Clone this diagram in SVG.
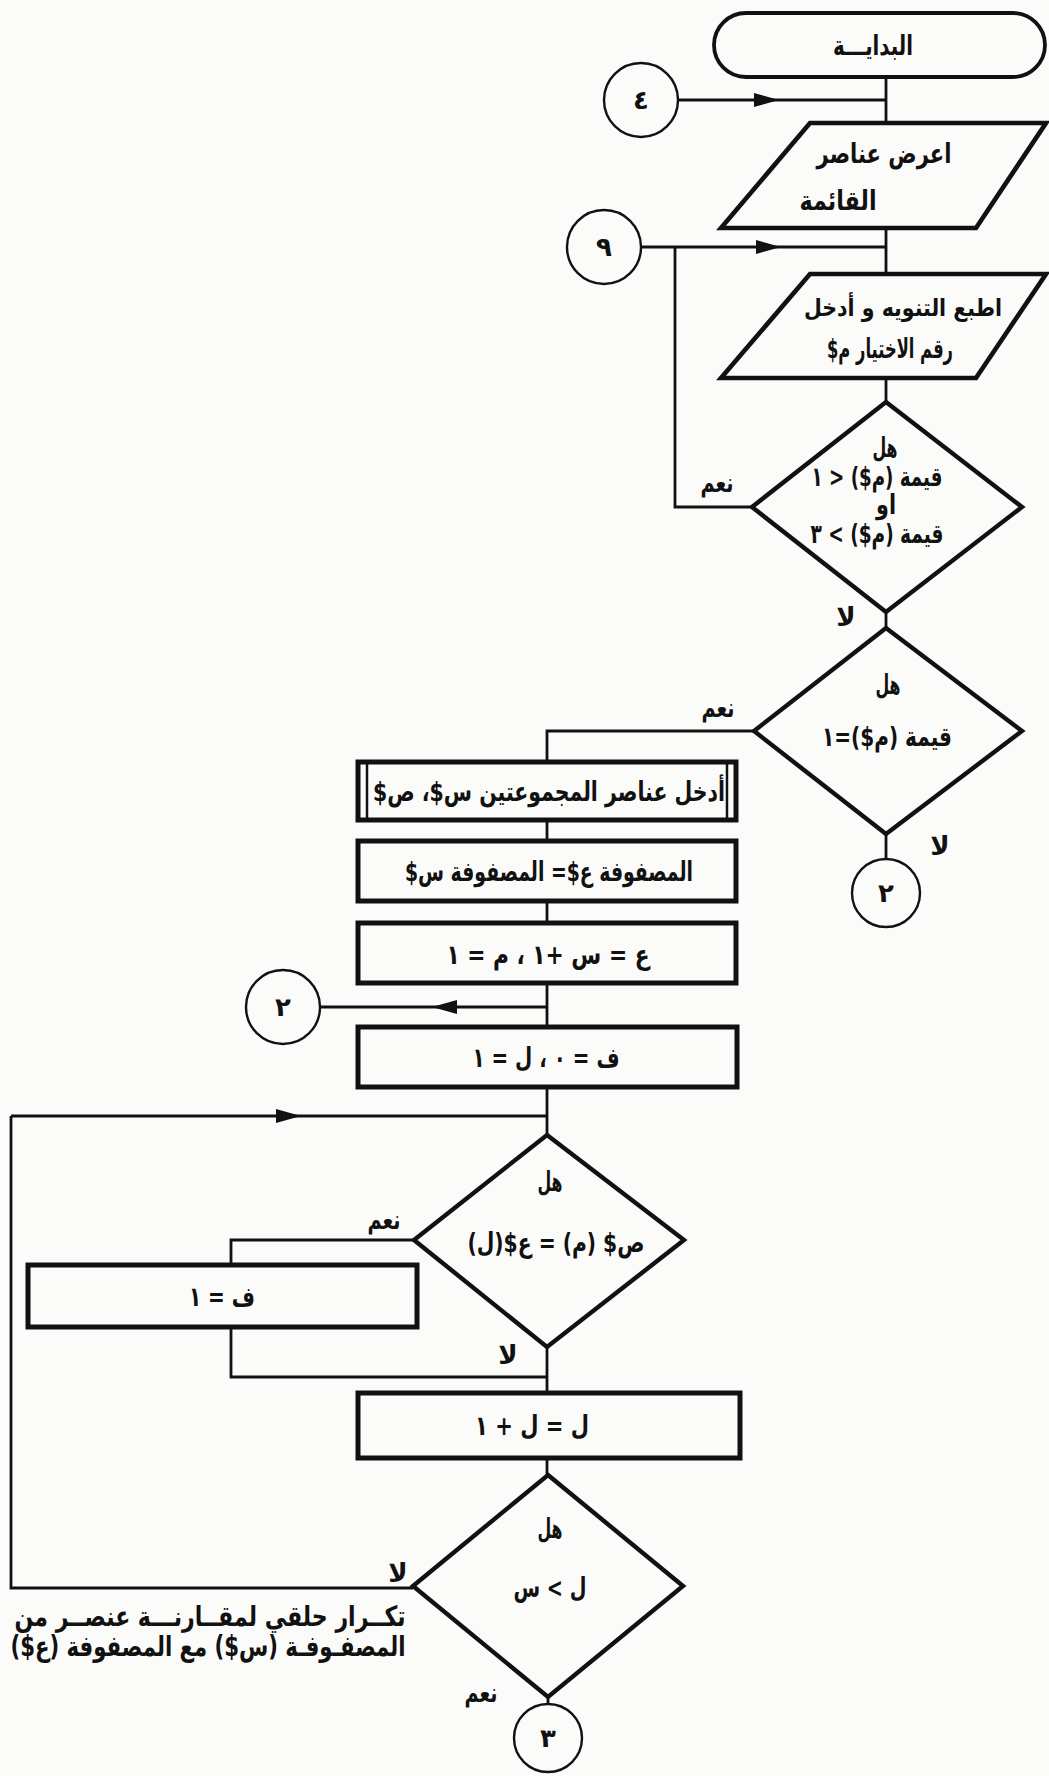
<svg xmlns="http://www.w3.org/2000/svg" width="1049" height="1776" viewBox="0 0 1049 1776">
  <style>
    .page { fill: #fbfbf9; }
    .term, .io, .dec, .proc { fill: none; stroke: #111; stroke-linejoin: miter; }
    .term { stroke-width: 3.8; }
    .io { stroke-width: 4.6; }
    .dec { stroke-width: 4.4; }
    .proc { stroke-width: 5; }
    .bar { stroke: #111; stroke-width: 2.5; }
    .conn { fill: none; stroke: #111; stroke-width: 2.4; }
    .wire { fill: none; stroke: #111; stroke-width: 2.8; }
    text { font-family: 'DejaVu Sans', 'Noto Sans', sans-serif; font-weight: bold; fill: #111;
           direction: rtl; text-anchor: middle; dominant-baseline: central; font-size: 27px; }
    .num { font-size: 26px; }
    .lbl { font-size: 26px; }
    .note { font-size: 28px; }
    .tight { font-size: 24px; }
  </style>
  <defs>
    <marker id="arrow" viewBox="-26 -8 26 16" refX="0" refY="0" markerWidth="26" markerHeight="16"
            markerUnits="userSpaceOnUse" orient="auto">
      <path d="M0,0 L-25,-7 L-25,7 Z" fill="#111"/>
    </marker>
  </defs>

  <rect class="page" x="0" y="0" width="1049" height="1776"/>

  <!-- connectors -->
  <g id="connectors">
    <line class="wire" x1="886" y1="77" x2="886" y2="123"/>
    <polyline class="wire" points="678,100 779,100 886,100" marker-mid="url(#arrow)"/>
    <line class="wire" x1="886" y1="228" x2="886" y2="274"/>
    <polyline class="wire" points="641,247 781,247 886,247" marker-mid="url(#arrow)"/>
    <polyline class="wire" points="752,507 675,507 675,247"/>
    <line class="wire" x1="886" y1="378" x2="886" y2="402"/>
    <line class="wire" x1="886" y1="612" x2="886" y2="628"/>
    <line class="wire" x1="886" y1="834" x2="886" y2="859"/>
    <polyline class="wire" points="754,731 547,731 547,762"/>
    <line class="wire" x1="547" y1="820" x2="547" y2="841"/>
    <line class="wire" x1="547" y1="901" x2="547" y2="923"/>
    <line class="wire" x1="547" y1="983" x2="547" y2="1027"/>
    <polyline class="wire" points="547,1007 432,1007 320,1007" marker-mid="url(#arrow)"/>
    <line class="wire" x1="547" y1="1087" x2="547" y2="1135"/>
    <polyline class="wire" points="414,1240 231,1240 231,1265"/>
    <polyline class="wire" points="231,1327 231,1377 547,1377"/>
    <line class="wire" x1="547" y1="1347" x2="547" y2="1393"/>
    <line class="wire" x1="547" y1="1458" x2="547" y2="1475"/>
    <polyline class="wire" points="413,1588 11,1588 11,1116"/>
    <polyline class="wire" points="11,1116 301,1116 547,1116" marker-mid="url(#arrow)"/>
    <line class="wire" x1="548" y1="1697" x2="548" y2="1704"/>
  </g>

  <!-- start terminator -->
  <g id="start">
    <rect class="term" x="714" y="13" width="331" height="64" rx="32"/>
    <text x="873" y="45" textLength="80" lengthAdjust="spacingAndGlyphs">البدايـــة</text>
  </g>

  <!-- off-page connector 4 -->
  <g id="conn4">
    <circle class="conn" cx="641" cy="100" r="37"/>
    <text class="num" x="641" y="100">٤</text>
  </g>

  <!-- show list items -->
  <g id="showList">
    <polygon class="io" points="810,123 1046,123 976,228 721,228"/>
    <text x="884" y="153" textLength="135" lengthAdjust="spacingAndGlyphs">اعرض عناصر</text>
    <text x="838" y="200" textLength="77" lengthAdjust="spacingAndGlyphs">القائمة</text>
  </g>

  <!-- off-page connector 9 -->
  <g id="conn9">
    <circle class="conn" cx="604" cy="247" r="37"/>
    <text class="num" x="604" y="247">٩</text>
  </g>

  <!-- prompt and read choice -->
  <g id="readChoice">
    <polygon class="io" points="810,274 1046,274 976,378 721,378"/>
    <text class="tight" x="903" y="308" textLength="198" lengthAdjust="spacingAndGlyphs">اطبع التنويه و أدخل</text>
    <text x="890" y="348" textLength="126" lengthAdjust="spacingAndGlyphs">رقم الاختيار م$</text>
  </g>

  <!-- range check -->
  <g id="rangeCheck">
    <polygon class="dec" points="886,402 1022,507 886,612 752,507"/>
    <text x="885" y="447" textLength="25" lengthAdjust="spacingAndGlyphs">هل</text>
    <text x="877" y="476" textLength="131" lengthAdjust="spacingAndGlyphs">قيمة (م$) &lt; ١</text>
    <text x="886" y="504" textLength="20" lengthAdjust="spacingAndGlyphs">او</text>
    <text x="877" y="533" textLength="133" lengthAdjust="spacingAndGlyphs">قيمة (م$) &gt; ٣</text>
    <text class="lbl" x="717" y="483" textLength="33" lengthAdjust="spacingAndGlyphs">نعم</text>
    <text class="lbl" x="846" y="617">لا</text>
  </g>

  <!-- choice equals one -->
  <g id="choiceOne">
    <polygon class="dec" points="886,628 1022,731 886,834 754,731"/>
    <text x="888" y="684" textLength="25" lengthAdjust="spacingAndGlyphs">هل</text>
    <text x="887" y="736" textLength="130" lengthAdjust="spacingAndGlyphs">قيمة (م$)=١</text>
    <text class="lbl" x="718" y="708" textLength="33" lengthAdjust="spacingAndGlyphs">نعم</text>
    <text class="lbl" x="940" y="846">لا</text>
  </g>

  <!-- connector 2 (exit) -->
  <g id="conn2out">
    <circle class="conn" cx="886" cy="893" r="34"/>
    <text class="num" x="886" y="893">٢</text>
  </g>

  <!-- input both sets -->
  <g id="inputSets">
    <rect class="proc" x="358" y="762" width="378" height="58"/>
    <line class="bar" x1="367" y1="762" x2="367" y2="820"/>
    <line class="bar" x1="727" y1="762" x2="727" y2="820"/>
    <text x="549" y="791" textLength="352" lengthAdjust="spacingAndGlyphs">أدخل عناصر المجموعتين س$، ص$</text>
  </g>

  <!-- copy array -->
  <g id="copyArray">
    <rect class="proc" x="358" y="841" width="378" height="60"/>
    <text x="549" y="871" textLength="288" lengthAdjust="spacingAndGlyphs">المصفوفة ع$= المصفوفة س$</text>
  </g>

  <!-- init counters -->
  <g id="initCounters">
    <rect class="proc" x="358" y="923" width="378" height="60"/>
    <text x="548" y="954" textLength="203" lengthAdjust="spacingAndGlyphs">ع = س +١ ،  م = ١</text>
  </g>

  <!-- connector 2 (entry) -->
  <g id="conn2in">
    <circle class="conn" cx="283" cy="1007" r="37"/>
    <text class="num" x="283" y="1007">٢</text>
  </g>

  <!-- reset flag -->
  <g id="resetFlag">
    <rect class="proc" x="358" y="1027" width="379" height="60"/>
    <text x="546" y="1057" textLength="147" lengthAdjust="spacingAndGlyphs">ف = ٠ ، ل = ١</text>
  </g>

  <!-- compare elements -->
  <g id="compare">
    <polygon class="dec" points="547,1135 684,1240 547,1347 414,1240"/>
    <text x="550" y="1181" textLength="25" lengthAdjust="spacingAndGlyphs">هل</text>
    <text x="556" y="1242" textLength="177" lengthAdjust="spacingAndGlyphs">ص$ (م) = ع$(ل)</text>
    <text class="lbl" x="384" y="1220" textLength="33" lengthAdjust="spacingAndGlyphs">نعم</text>
    <text class="lbl" x="508" y="1355">لا</text>
  </g>

  <!-- set flag -->
  <g id="setFlag">
    <rect class="proc" x="28" y="1265" width="389" height="62"/>
    <text x="222" y="1296" textLength="66" lengthAdjust="spacingAndGlyphs">ف = ١</text>
  </g>

  <!-- increment index -->
  <g id="increment">
    <rect class="proc" x="358" y="1393" width="382" height="65"/>
    <text x="532" y="1425" textLength="114" lengthAdjust="spacingAndGlyphs">ل = ل + ١</text>
  </g>

  <!-- loop end test -->
  <g id="loopTest">
    <polygon class="dec" points="548,1475 683,1586 548,1697 413,1586"/>
    <text x="550" y="1528" textLength="25" lengthAdjust="spacingAndGlyphs">هل</text>
    <text x="550" y="1587" textLength="73" lengthAdjust="spacingAndGlyphs">ل &gt; س</text>
    <text class="lbl" x="398" y="1573">لا</text>
    <text class="lbl" x="481" y="1693" textLength="33" lengthAdjust="spacingAndGlyphs">نعم</text>
  </g>

  <!-- loop note -->
  <g id="loopNote">
    <text class="note" x="210" y="1616" textLength="391" lengthAdjust="spacingAndGlyphs">تكــرار حلقي لمقــارنـــة عنصــر من</text>
    <text class="note" x="208" y="1646" textLength="395" lengthAdjust="spacingAndGlyphs">المصفـوفـة (س$) مع المصفوفة (ع$)</text>
  </g>

  <!-- connector 3 -->
  <g id="conn3">
    <circle class="conn" cx="548" cy="1738" r="34"/>
    <text class="num" x="548" y="1738">٣</text>
  </g>
</svg>
